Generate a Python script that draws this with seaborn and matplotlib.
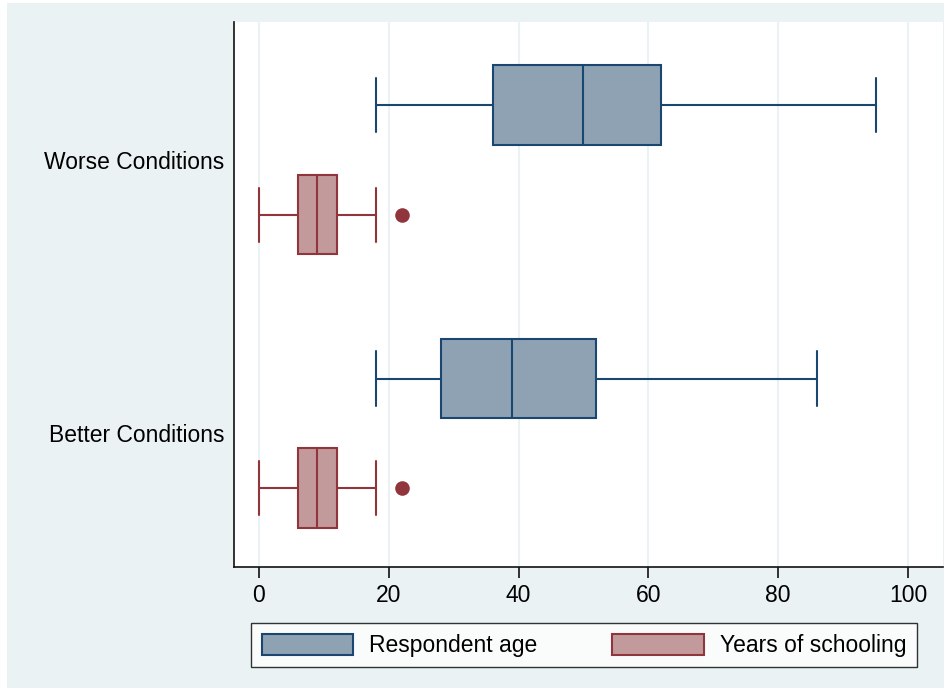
import matplotlib
matplotlib.use("Agg")
import matplotlib.pyplot as plt
import seaborn as sns
import pandas as pd
from matplotlib.patches import Patch, Rectangle

# ---- data (samples whose five-number summaries match the chart) ----
conditions = ["Worse Conditions", "Better Conditions"]
variables = ["Respondent age", "Years of schooling"]
x_ticks = [0, 20, 40, 60, 80, 100]

age_worse = [18, 36, 36, 50, 50, 50, 62, 62, 95]
age_better = [18, 28, 28, 39, 39, 39, 52, 52, 86]
school_worse = [0, 6, 6, 9, 9, 9, 12, 18, 22]
school_better = [0, 6, 6, 9, 9, 9, 12, 18, 22]

rows = []
for cond, vals in [(conditions[0], age_worse), (conditions[1], age_better)]:
    rows += [(cond, variables[0], v) for v in vals]
for cond, vals in [(conditions[0], school_worse), (conditions[1], school_better)]:
    rows += [(cond, variables[1], v) for v in vals]
df = pd.DataFrame(rows, columns=["condition", "variable", "value"])

# ---- styling ----
sns.set_style("white")
plt.rcParams["font.family"] = ["Liberation Sans", "DejaVu Sans"]
plt.rcParams["text.color"] = "black"
plt.rcParams["xtick.color"] = "black"
plt.rcParams["ytick.color"] = "black"
plt.rcParams["xtick.labelcolor"] = "black"
plt.rcParams["ytick.labelcolor"] = "black"

bg = "#EAF2F3"
navy, navy_fill = "#1A476F", "#8FA2B4"
maroon, maroon_fill = "#90353B", "#C39A9C"

fig = plt.figure(figsize=(9.45, 6.88), dpi=100, facecolor="white")
fig.patches.append(Rectangle((7 / 945, 0), 1, 1 - 3 / 688, transform=fig.transFigure,
                             facecolor=bg, edgecolor="none", zorder=-10))
ax = fig.add_axes([234 / 945, 1 - 567 / 688, (943 - 234) / 945, (567 - 22) / 688])
ax.set_facecolor("white")

for var, line_c, fill_c in [(variables[0], navy, navy_fill), (variables[1], maroon, maroon_fill)]:
    sns.boxplot(
        data=df[df["variable"] == var], x="value", y="condition", hue="variable",
        order=conditions, hue_order=variables, orient="h", dodge=True,
        palette={variables[0]: fill_c, variables[1]: fill_c},
        saturation=1, width=0.8, gap=0.27, linecolor=line_c, linewidth=1.5,
        whis=1.5, legend=False, ax=ax,
        flierprops=dict(marker="o", markerfacecolor=maroon, markeredgecolor=maroon,
                        markersize=10.5, markeredgewidth=0),
    )

# widen caps (Stata-style)
for ln in ax.lines:
    xd, yd = ln.get_xdata(), ln.get_ydata()
    if len(xd) == 2 and xd[0] == xd[1]:
        span = abs(yd[1] - yd[0])
        if 0.05 < span < 0.2:
            c = (yd[0] + yd[1]) / 2
            ln.set_ydata([c - 0.099, c + 0.099])

ax.set_xlim(-3.85, 105.4)
ax.set_ylim(1.49, -0.505)
ax.set_xticks(x_ticks)
ax.set_xticklabels([str(t) for t in x_ticks])
ax.set_xlabel("")
ax.set_ylabel("")
ax.xaxis.grid(True, color=bg, linewidth=1.5)
ax.set_axisbelow(True)
for s in ["top", "right"]:
    ax.spines[s].set_visible(False)
for s in ["left", "bottom"]:
    ax.spines[s].set_color("#111111")
    ax.spines[s].set_linewidth(1.2)
ax.tick_params(axis="x", length=8, width=1.2, color="#111111", direction="out",
               labelsize=16.5, pad=4, bottom=True)
ax.tick_params(axis="y", length=0, labelsize=16.5, pad=7)

handles = [Patch(facecolor=navy_fill, edgecolor=navy, linewidth=1.5, label=variables[0]),
           Patch(facecolor=maroon_fill, edgecolor=maroon, linewidth=1.5, label=variables[1])]
leg = fig.legend(handles=handles, loc="center", bbox_to_anchor=(0.618, 0.062), ncol=2,
                 fontsize=16.5, frameon=True, fancybox=False, shadow=False,
                 handlelength=4.0, handleheight=1.05, handletextpad=0.7,
                 columnspacing=3.25, borderpad=0.45, borderaxespad=0)
leg.get_frame().set_edgecolor("black")
leg.get_frame().set_linewidth(1.0)
leg.get_frame().set_facecolor("white")

fig.savefig("out.png", dpi=100, facecolor=fig.get_facecolor())
